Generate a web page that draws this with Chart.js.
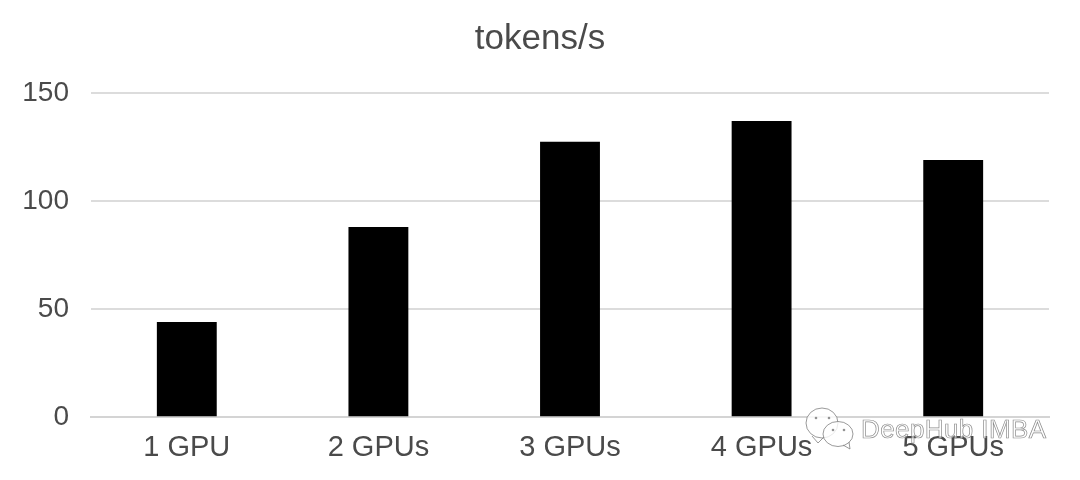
<!DOCTYPE html>
<html>
<head>
<meta charset="utf-8">
<style>
html, body { margin: 0; padding: 0; background: #fff; }
#wrap { width: 1080px; height: 480px; position: relative; }
</style>
<script src="https://cdn.jsdelivr.net/npm/chart.js@4"></script>
</head>
<body>
<div id="wrap"><canvas id="chart" width="1080" height="480"></canvas></div>
<script>
const categories = ['1 GPU', '2 GPUs', '3 GPUs', '4 GPUs', '5 GPUs'];
const tokensPerSec = [44, 88, 127.5, 137, 119];
const yTicks = [0, 50, 100, 150];
const titleText = 'tokens/s';
const watermarkText = 'DeepHub IMBA';

// wechat-style logo and outlined text that sit on top of the chart
const watermark = {
    id: 'watermark',
    afterDraw(chart) {
        const c = chart.ctx;
        c.save();
        c.strokeStyle = 'rgba(120,120,120,0.75)';
        c.fillStyle = 'rgba(255,255,255,0.8)';
        c.lineWidth = 1;

        c.beginPath();
        c.ellipse(822, 423, 16, 15, 0, 0, Math.PI * 2);
        c.moveTo(812, 436);
        c.lineTo(818, 443);
        c.lineTo(824, 437);
        c.fill();
        c.stroke();

        c.beginPath();
        c.ellipse(838, 434, 15, 12.5, 0, 0, Math.PI * 2);
        c.moveTo(843, 445);
        c.lineTo(850, 449);
        c.lineTo(849, 442);
        c.fill();
        c.stroke();

        c.fillStyle = 'rgba(120,120,120,0.8)';
        [[816, 418], [829, 418], [833, 430], [844, 430]].forEach(p => {
            c.beginPath();
            c.arc(p[0], p[1], 1.3, 0, Math.PI * 2);
            c.fill();
        });

        c.font = '26px "Liberation Sans"';
        c.letterSpacing = '0.4px';
        c.textBaseline = 'middle';
        c.fillStyle = 'rgba(255,255,255,0.6)';
        c.fillText(watermarkText, 861, 431);
        c.strokeStyle = 'rgba(110,110,110,0.8)';
        c.lineWidth = 0.7;
        c.strokeText(watermarkText, 861, 431);
        c.restore();
    }
};

new Chart(document.getElementById('chart'), {
    type: 'bar',
    data: {
        labels: categories,
        datasets: [{ data: tokensPerSec, backgroundColor: '#000', barPercentage: 0.625, categoryPercentage: 0.5 }]
    },
    options: {
        responsive: false,
        animation: false,
        layout: { padding: { left: 0, right: 0, top: 0, bottom: 10 } },
        plugins: {
            legend: { display: false },
            tooltip: { enabled: false },
            title: { display: true, text: titleText, color: '#4a4a4a', font: { family: '"Liberation Sans"', size: 35, weight: 'normal' }, padding: { top: 18, bottom: 33 } }
        },
        scales: {
            x: {
                grid: { display: false },
                border: { color: '#d4d4d4', width: 2 },
                ticks: { color: '#4a4a4a', font: { family: '"Liberation Sans"', size: 29 }, maxRotation: 0, padding: 5 }
            },
            y: {
                min: 0, max: 150,
                grid: { color: '#dcdcdc', lineWidth: 2, drawTicks: false },
                border: { display: false },
                afterBuildTicks(axis) { axis.ticks = yTicks.map(v => ({ value: v })); },
                afterFit(axis) { axis.width = 91; },
                ticks: { color: '#4a4a4a', font: { family: '"Liberation Sans"', size: 28 }, padding: 22 }
            },
            // empty axis, keeps the right margin without moving the centred title
            spacer: {
                position: 'right',
                grid: { display: false },
                border: { display: false },
                ticks: { display: false },
                afterFit(axis) { axis.width = 31; }
            }
        }
    },
    plugins: [watermark]
});
</script>
</body>
</html>
